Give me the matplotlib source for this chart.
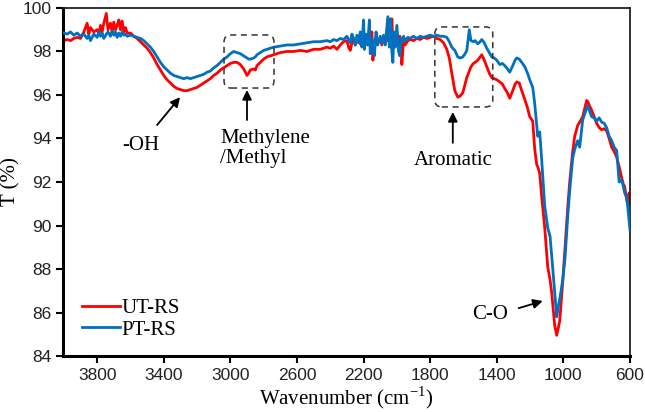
import matplotlib
matplotlib.use("Agg")
import matplotlib.pyplot as plt
from matplotlib.patches import FancyBboxPatch
from matplotlib.transforms import IdentityTransform

# ---- data ----
wavenumber = [4000, 3980, 3960, 3940, 3920, 3900, 3880, 3860, 3850, 3840, 3820, 3800, 3790, 3780, 3770, 3760,
              3745, 3735, 3720, 3710, 3700, 3690, 3680, 3670, 3660, 3650, 3640, 3630, 3620, 3600, 3580, 3560,
              3540, 3520, 3500, 3480, 3460, 3440, 3420, 3400, 3380, 3360, 3340, 3320, 3300, 3280, 3260, 3240,
              3220, 3200, 3180, 3160, 3140, 3120, 3100, 3080, 3060, 3040, 3020, 3000, 2980, 2960, 2940, 2920,
              2910, 2900, 2890, 2880, 2860, 2850, 2840, 2820, 2800, 2780, 2760, 2740, 2700, 2660, 2620, 2580,
              2540, 2500, 2460, 2420, 2400, 2380, 2360, 2340, 2320, 2300, 2290, 2280, 2270, 2260, 2250, 2240,
              2230, 2220, 2210, 2200, 2195, 2185, 2175, 2165, 2160, 2150, 2144, 2135, 2125, 2115, 2100, 2090,
              2080, 2070, 2060, 2054, 2045, 2038, 2030, 2024, 2018, 2010, 2000, 1990, 1982, 1975, 1970, 1960,
              1950, 1934, 1920, 1900, 1880, 1860, 1840, 1820, 1800, 1780, 1760, 1740, 1720, 1700, 1685, 1670,
              1652, 1634, 1620, 1604, 1590, 1580, 1565, 1555, 1540, 1530, 1514, 1500, 1490, 1475, 1460, 1445,
              1430, 1415, 1400, 1382, 1366, 1352, 1336, 1322, 1304, 1290, 1280, 1265, 1250, 1232, 1215, 1202,
              1184, 1172, 1160, 1154, 1142, 1130, 1112, 1094, 1080, 1070, 1052, 1040, 1030, 1022, 1004, 990,
              974, 962, 944, 932, 914, 902, 884, 860, 854, 840, 830, 815, 800, 785, 770, 755,
              740, 725, 710, 695, 680, 665, 650, 640, 632, 620, 614, 605, 600]

ut_rs = [98.5, 98.55, 98.5, 98.6, 98.65, 98.6, 98.9, 99.3, 98.8, 99.1, 98.9, 99.0, 98.8, 99.2, 98.9, 99.3,
         99.75, 99.0, 99.3, 98.9, 99.35, 99.0, 99.2, 99.45, 99.0, 99.4, 98.9, 99.1, 98.85, 98.85, 98.7, 98.6,
         98.45, 98.3, 98.15, 97.95, 97.7, 97.4, 97.15, 96.9, 96.7, 96.55, 96.4, 96.3, 96.25, 96.2, 96.2, 96.25,
         96.3, 96.35, 96.45, 96.55, 96.65, 96.75, 96.9, 97.0, 97.15, 97.25, 97.35, 97.45, 97.5, 97.5, 97.4, 97.2,
         97.05, 96.9, 97.0, 97.15, 97.2, 97.15, 97.35, 97.5, 97.65, 97.75, 97.8, 97.85, 97.95, 98.0, 98.0, 98.05,
         98.0, 98.1, 98.1, 98.2, 98.15, 98.25, 98.1, 98.3, 98.45, 98.5, 98.2, 98.05, 98.4, 98.6, 98.3, 98.5,
         98.7, 98.35, 98.6, 99.0, 98.4, 98.7, 98.3, 98.8, 98.5, 98.9, 97.6, 98.3, 98.7, 98.4, 98.6, 98.3,
         98.7, 98.4, 98.9, 98.5, 99.1, 98.4, 99.5, 98.3, 98.8, 98.5, 98.9, 98.4, 98.7, 98.4, 97.4, 98.5,
         98.3, 98.5, 98.55, 98.5, 98.6, 98.55, 98.65, 98.6, 98.65, 98.7, 98.6, 98.55, 98.4, 98.1, 97.7, 97.0,
         96.2, 95.9, 95.95, 96.1, 96.5, 96.8, 97.1, 97.3, 97.45, 97.5, 97.6, 97.75, 97.85, 97.6, 97.3, 97.0,
         96.8, 96.75, 96.7, 96.6, 96.5, 96.3, 96.1, 95.85, 96.2, 96.5, 96.6, 96.55, 96.2, 95.8, 95.4, 95.0,
         94.8, 93.5, 92.8, 92.7, 92.4, 91.3, 89.9, 88.1, 87.5, 86.9, 85.4, 84.95, 85.3, 85.6, 87.4, 89.0,
         90.8, 92.0, 93.4, 94.1, 94.6, 94.75, 95.0, 95.75, 95.7, 95.45, 95.3, 95.0, 94.7, 94.5, 94.4, 94.45,
         94.35, 94.0, 93.6, 93.4, 93.15, 92.7, 92.2, 91.9, 91.8, 91.2, 91.0, 91.5, 91.0]

pt_rs = [98.85, 98.8, 98.9, 98.75, 98.85, 98.7, 98.8, 98.6, 98.75, 98.5, 98.8, 98.65, 98.9, 98.7, 98.85, 98.6,
         98.8, 98.9, 98.7, 98.95, 98.75, 98.9, 98.65, 98.85, 98.7, 98.9, 98.75, 98.8, 98.7, 98.75, 98.7, 98.65,
         98.6, 98.5, 98.35, 98.2, 98.0, 97.75, 97.5, 97.3, 97.15, 97.0, 96.9, 96.85, 96.8, 96.75, 96.8, 96.75,
         96.8, 96.85, 96.9, 96.95, 97.05, 97.1, 97.25, 97.35, 97.5, 97.65, 97.75, 97.9, 98.0, 97.95, 97.9, 97.8,
         97.75, 97.7, 97.65, 97.65, 97.7, 97.75, 97.85, 97.95, 98.05, 98.1, 98.15, 98.2, 98.25, 98.3, 98.3, 98.35,
         98.4, 98.45, 98.45, 98.5, 98.45, 98.55, 98.5, 98.6, 98.55, 98.7, 98.55, 98.4, 98.8, 98.6, 98.3, 98.75,
         98.4, 98.9, 98.2, 99.45, 98.1, 98.8, 98.3, 99.45, 97.9, 98.6, 98.3, 97.8, 98.9, 98.3, 98.7, 98.4,
         98.75, 98.3, 99.1, 99.6, 98.2, 99.5, 98.0, 97.5, 98.9, 98.2, 99.2, 98.0, 97.8, 98.6, 98.4, 98.7,
         98.5, 98.65, 98.6, 98.7, 98.6, 98.7, 98.65, 98.7, 98.75, 98.7, 98.75, 98.7, 98.7, 98.65, 98.45, 98.2,
         98.05, 97.75, 97.7, 97.75, 97.9, 98.05, 99.0, 98.5, 98.45, 98.5, 98.35, 98.45, 98.55, 98.4, 98.15, 97.95,
         97.75, 97.7, 97.6, 97.4, 97.45, 97.35, 97.2, 97.05, 97.35, 97.6, 97.7, 97.65, 97.5, 97.3, 97.0, 96.7,
         96.35, 95.6, 94.6, 94.1, 94.3, 93.0, 90.9, 89.9, 89.5, 88.6, 86.9, 85.8, 86.3, 86.6, 87.5, 88.5,
         90.4, 91.6, 93.1, 93.5, 93.9, 93.6, 94.85, 95.4, 95.5, 95.2, 95.0, 94.95, 94.8, 94.95, 94.75, 94.7,
         94.5, 94.1, 93.9, 93.6, 93.45, 92.0, 92.1, 91.8, 91.5, 91.3, 90.9, 90.2, 89.8]

series_labels = ["UT-RS", "PT-RS"]
x_ticks = [3800, 3400, 3000, 2600, 2200, 1800, 1400, 1000, 600]
y_ticks = [84, 86, 88, 90, 92, 94, 96, 98, 100]

SERIF = ["Liberation Serif", "DejaVu Serif"]
SANS = ["Liberation Sans", "DejaVu Sans"]

fig = plt.figure(figsize=(6.45, 4.12), dpi=100)
ax = fig.add_axes([0.0977, 0.1359, 0.8790, 0.8447])

ax.plot(wavenumber, ut_rs, color="#FF0000", lw=2.0, label=series_labels[0], zorder=2)
ax.plot(wavenumber, pt_rs, color="#0070C0", lw=2.0, label=series_labels[1], zorder=3)

ax.set_xlim(4005, 600)
ax.set_ylim(84, 100)
ax.set_xticks(x_ticks)
ax.set_yticks(y_ticks)
ax.tick_params(axis="both", direction="out", length=5, width=1.5, labelsize=12.5, colors="black")
for lab in ax.get_xticklabels() + ax.get_yticklabels():
    lab.set_fontfamily(SANS)
    lab.set_color("#222222")

for side in ["left", "bottom"]:
    ax.spines[side].set_linewidth(2.2)
for side in ["top", "right"]:
    ax.spines[side].set_linewidth(1.3)
    ax.spines[side].set_color("#222222")

ax.set_xlabel("Wavenumber (cm$^{\\mathregular{-1}}$)", fontsize=15, family=SERIF, labelpad=1)
ax.set_ylabel("T (%)", fontsize=15, family=SERIF, labelpad=1)

leg = ax.legend(loc="lower left", bbox_to_anchor=(0.008, 0.005), frameon=False,
                prop={"family": SERIF, "size": 15}, handlelength=1.8, handletextpad=0.1,
                labelspacing=0.1, borderpad=0.2)

arrow_props = dict(arrowstyle="-|>", color="black", lw=1.3, mutation_scale=14, shrinkA=0, shrinkB=0)

# -OH
ax.annotate("", xy=(3302, 95.9), xytext=(3440, 94.62), arrowprops=arrow_props)
ax.text(3540, 93.7, "-OH", fontsize=15, family=SERIF, ha="center", va="center")

# Methylene / Methyl
ax.annotate("", xy=(2900, 96.23), xytext=(2900, 94.85), arrowprops=arrow_props)
ax.text(3062, 93.55, "Methylene\n/Methyl", fontsize=15, family=SERIF, ha="left", va="center", linespacing=1.1)

# Aromatic
ax.annotate("", xy=(1664, 95.22), xytext=(1664, 93.8), arrowprops=arrow_props)
ax.text(1664, 93.0, "Aromatic", fontsize=15, family=SERIF, ha="center", va="center")

# C-O
ax.annotate("", xy=(1124, 86.53), xytext=(1268, 86.2), arrowprops=arrow_props)
ax.text(1442, 85.93, "C-O", fontsize=15, family=SERIF, ha="center", va="center")

# dashed rounded boxes (drawn in pixel space so corners stay round)
def dashed_box(x0, x1, y0, y1):
    (px0, py0) = ax.transData.transform((x0, y0))
    (px1, py1) = ax.transData.transform((x1, y1))
    left, right = min(px0, px1), max(px0, px1)
    bottom, top = min(py0, py1), max(py0, py1)
    patch = FancyBboxPatch((left, bottom), right - left, top - bottom,
                           boxstyle="round,pad=0,rounding_size=7", transform=IdentityTransform(),
                           fill=False, edgecolor="#333333", lw=1.1, linestyle=(0, (4, 3)), zorder=4)
    fig.add_artist(patch)

dashed_box(3038, 2738, 96.32, 98.76)
dashed_box(1772, 1424, 95.45, 99.13)

fig.savefig("out.png", dpi=100)
